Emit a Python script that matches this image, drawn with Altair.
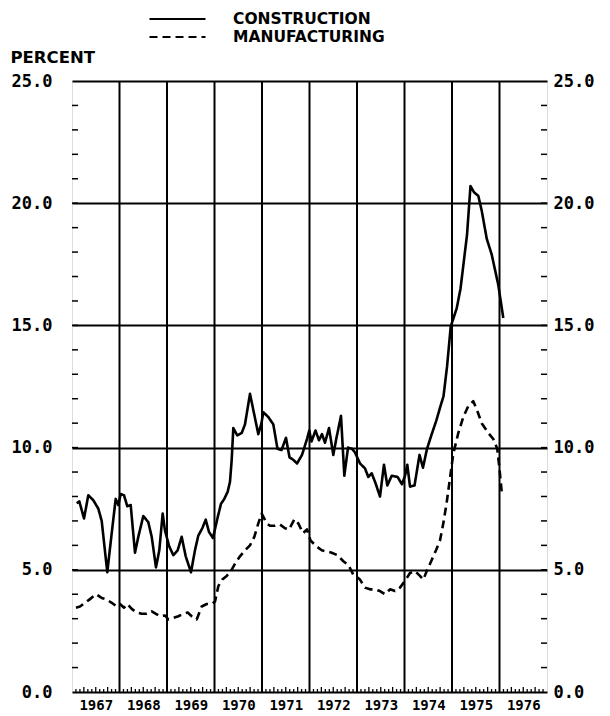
import altair as alt
import pandas as pd

# ---- data (decimal years, percent) ----
con_t = [1967.099, 1967.154, 1967.253, 1967.343, 1967.448, 1967.554, 1967.625, 1967.743, 1967.836, 1967.920,
         1967.975, 1968.025, 1968.095, 1968.164, 1968.236, 1968.326, 1968.396, 1968.501, 1968.606, 1968.678,
         1968.768, 1968.838, 1968.909, 1968.958, 1969.048, 1969.133, 1969.225, 1969.309, 1969.394, 1969.505,
         1969.589, 1969.659, 1969.743, 1969.815, 1969.884, 1969.968, 1970.067, 1970.137, 1970.206, 1970.278,
         1970.326, 1970.362, 1970.396, 1970.480, 1970.573, 1970.642, 1970.747, 1970.832, 1970.922, 1970.989,
         1971.027, 1971.133, 1971.238, 1971.326, 1971.411, 1971.505, 1971.579, 1971.659, 1971.737, 1971.842,
         1971.947, 1971.996, 1972.042, 1972.126, 1972.200, 1972.263, 1972.326, 1972.411, 1972.501, 1972.568,
         1972.663, 1972.733, 1972.811, 1972.895, 1972.958, 1973.063, 1973.168, 1973.238, 1973.309, 1973.389,
         1973.484, 1973.568, 1973.638, 1973.731, 1973.853, 1973.947, 1974.011, 1974.059, 1974.116, 1974.211,
         1974.316, 1974.389, 1974.474, 1974.573, 1974.669, 1974.758, 1974.821, 1974.895, 1974.973, 1975.099,
         1975.179, 1975.316, 1975.389, 1975.463, 1975.554, 1975.625, 1975.731, 1975.836, 1975.975, 1976.080]
con_v = [7.72, 7.8, 7.1, 8.05, 7.85, 7.5, 7.0, 4.9, 6.5, 7.9,
         7.65, 8.1, 8.05, 7.6, 7.65, 5.7, 6.35, 7.2, 6.95, 6.35,
         5.1, 5.8, 7.3, 6.6, 5.95, 5.6, 5.8, 6.35, 5.55, 4.9,
         5.8, 6.4, 6.7, 7.05, 6.55, 6.3, 7.15, 7.7, 7.9, 8.2,
         8.6, 9.5, 10.8, 10.5, 10.6, 10.95, 12.2, 11.4, 10.55, 11.0,
         11.45, 11.25, 10.95, 9.95, 9.9, 10.4, 9.6, 9.5, 9.35, 9.7,
         10.35, 10.7, 10.25, 10.7, 10.3, 10.55, 10.2, 10.8, 9.7, 10.4,
         11.3, 8.85, 10.0, 9.95, 9.8, 9.35, 9.15, 8.8, 8.95, 8.55,
         8.0, 9.3, 8.45, 8.85, 8.8, 8.5, 8.85, 9.3, 8.4, 8.45,
         9.7, 9.18, 9.95, 10.55, 11.1, 11.7, 12.1, 13.3, 14.95, 15.7,
         16.5, 18.7, 20.7, 20.45, 20.3, 19.7, 18.55, 17.9, 16.65, 15.3]

man_t = [1967.084, 1967.168, 1967.274, 1967.379, 1967.505, 1967.625, 1967.716, 1967.836, 1967.941, 1968.011,
         1968.095, 1968.164, 1968.257, 1968.362, 1968.467, 1968.573, 1968.678, 1968.768, 1968.853, 1968.958,
         1969.027, 1969.133, 1969.238, 1969.343, 1969.436, 1969.520, 1969.625, 1969.731, 1969.836, 1969.941,
         1970.011, 1970.080, 1970.164, 1970.257, 1970.347, 1970.446, 1970.537, 1970.642, 1970.747, 1970.838,
         1970.922, 1970.994, 1971.099, 1971.168, 1971.274, 1971.379, 1971.484, 1971.568, 1971.684, 1971.764,
         1971.863, 1971.947, 1972.021, 1972.152, 1972.257, 1972.362, 1972.467, 1972.589, 1972.712, 1972.817,
         1972.922, 1973.000, 1973.063, 1973.168, 1973.274, 1973.379, 1973.484, 1973.589, 1973.695, 1973.800,
         1973.905, 1974.011, 1974.116, 1974.221, 1974.326, 1974.396, 1974.480, 1974.573, 1974.663, 1974.747,
         1974.817, 1974.888, 1974.958, 1975.027, 1975.133, 1975.238, 1975.343, 1975.448, 1975.533, 1975.625,
         1975.764, 1975.869, 1975.953, 1975.996, 1976.046]
man_v = [3.45, 3.5, 3.65, 3.8, 4.0, 3.85, 3.8, 3.65, 3.5, 3.6,
         3.45, 3.6, 3.4, 3.25, 3.2, 3.2, 3.3, 3.2, 3.1, 3.13,
         2.97, 3.03, 3.1, 3.2, 3.25, 3.1, 2.97, 3.5, 3.6, 3.6,
         3.7, 4.33, 4.6, 4.75, 4.95, 5.3, 5.55, 5.8, 6.0, 6.35,
         6.9, 7.3, 6.9, 6.8, 6.8, 6.85, 6.7, 6.65, 7.07, 6.9,
         6.5, 6.65, 6.2, 5.95, 5.8, 5.75, 5.7, 5.6, 5.35, 5.2,
         4.8, 4.7, 4.6, 4.27, 4.2, 4.2, 4.13, 4.0, 4.2, 4.13,
         4.27, 4.55, 4.87, 4.95, 4.75, 4.6, 5.0, 5.4, 5.8, 6.2,
         6.9, 7.75, 8.75, 9.75, 10.6, 11.25, 11.7, 11.9, 11.5, 11.0,
         10.6, 10.35, 9.95, 9.2, 8.2]

series_names = ["CONSTRUCTION", "MANUFACTURING"]
year_labels = list(range(1967, 1977))
y_major = [0, 5, 10, 15, 20, 25]

df = pd.concat([
    pd.DataFrame({"t": con_t, "v": con_v, "series": series_names[0]}),
    pd.DataFrame({"t": man_t, "v": man_v, "series": series_names[1]}),
])
year_lines = pd.DataFrame({"t": year_labels[1:]})
month_ticks = pd.DataFrame({"t": [1967 + k / 12 for k in range(1, 120) if k % 3 != 0]})
quarter_ticks = pd.DataFrame({"t": [1967 + k / 4 for k in range(1, 40) if k % 4 != 0]})
y_minor = pd.DataFrame({"m": list(range(1, 25))})

W, H = 475, 611
NUM_FONT = "DejaVu Sans Mono"
TXT_FONT = "DejaVu Sans"

xs = alt.Scale(domain=[1967, 1977], nice=False, zero=False)
ys = alt.Scale(domain=[0, 25], nice=False, zero=True)

lines = alt.Chart(df).mark_line(color="black", strokeWidth=2.6, strokeJoin="round").encode(
    x=alt.X("t:Q", scale=xs, title=None,
            axis=alt.Axis(values=[y + 0.5 for y in year_labels], labelExpr="floor(datum.value)",
                          ticks=False, domain=False, grid=False, labelFont=NUM_FONT,
                          labelFontWeight="bold", labelFontSize=14, labelColor="black",
                          labelPadding=6)),
    y=alt.Y("v:Q", scale=ys,
            axis=alt.Axis(orient="left", values=y_major, format=".1f", grid=True,
                          gridColor="black", gridWidth=2, ticks=False, domain=False,
                          labelFont=NUM_FONT, labelFontWeight="bold", labelFontSize=17,
                          labelColor="black", labelPadding=20,
                          title="PERCENT", titleAngle=0, titleAlign="left",
                          titleBaseline="alphabetic", titleX=-62, titleY=-19,
                          titleFont=TXT_FONT, titleFontWeight="bold", titleFontSize=16.5,
                          titleColor="black")),
    strokeDash=alt.StrokeDash("series:N",
                              scale=alt.Scale(domain=series_names, range=[[1, 0], [8, 5]]),
                              legend=alt.Legend(orient="none", legendX=76, legendY=-70,
                                                title=None, symbolType="stroke", symbolSize=3136,
                                                symbolStrokeWidth=2.2, symbolStrokeColor="black",
                                                labelFont=TXT_FONT, labelFontWeight="bold",
                                                labelFontSize=15.5, labelColor="black",
                                                labelOffset=26, labelLimit=400, clipHeight=16,
                                                rowPadding=1, padding=0)),
)

vgrid = alt.Chart(year_lines).mark_rule(color="black", strokeWidth=2).encode(
    x=alt.X("t:Q", scale=xs))

bticks = alt.Chart(month_ticks).mark_rule(color="black", strokeWidth=1.3).encode(
    x=alt.X("t:Q", scale=xs), y=alt.value(H), y2=alt.value(H - 3))
bticks_q = alt.Chart(quarter_ticks).mark_rule(color="black", strokeWidth=1.3).encode(
    x=alt.X("t:Q", scale=xs), y=alt.value(H), y2=alt.value(H - 5))

lticks = alt.Chart(y_minor).mark_rule(color="black", strokeWidth=1.5).encode(
    y=alt.Y("m:Q", scale=ys, axis=None),
    x=alt.value(0), x2=alt.value(6))

rticks = alt.Chart(y_minor).mark_rule(color="black", strokeWidth=1.5).encode(
    y=alt.Y("m:Q", scale=ys,
            axis=alt.Axis(orient="right", values=y_major, format=".1f", grid=False,
                          ticks=False, domain=False, labelFont=NUM_FONT,
                          labelFontWeight="bold", labelFontSize=17, labelColor="black",
                          labelPadding=6, title=None)),
    x=alt.value(W - 6), x2=alt.value(W))

chart = alt.layer(vgrid, bticks, bticks_q, lticks, lines, rticks).resolve_axis(
    y="independent").properties(
    width=W, height=H,
    padding={"left": 2, "top": 3, "right": 2, "bottom": 2},
).configure_view(stroke="black", strokeWidth=2.2).configure(background="white")

chart.save("out.html", embed_options={"renderer": "svg", "actions": False})
